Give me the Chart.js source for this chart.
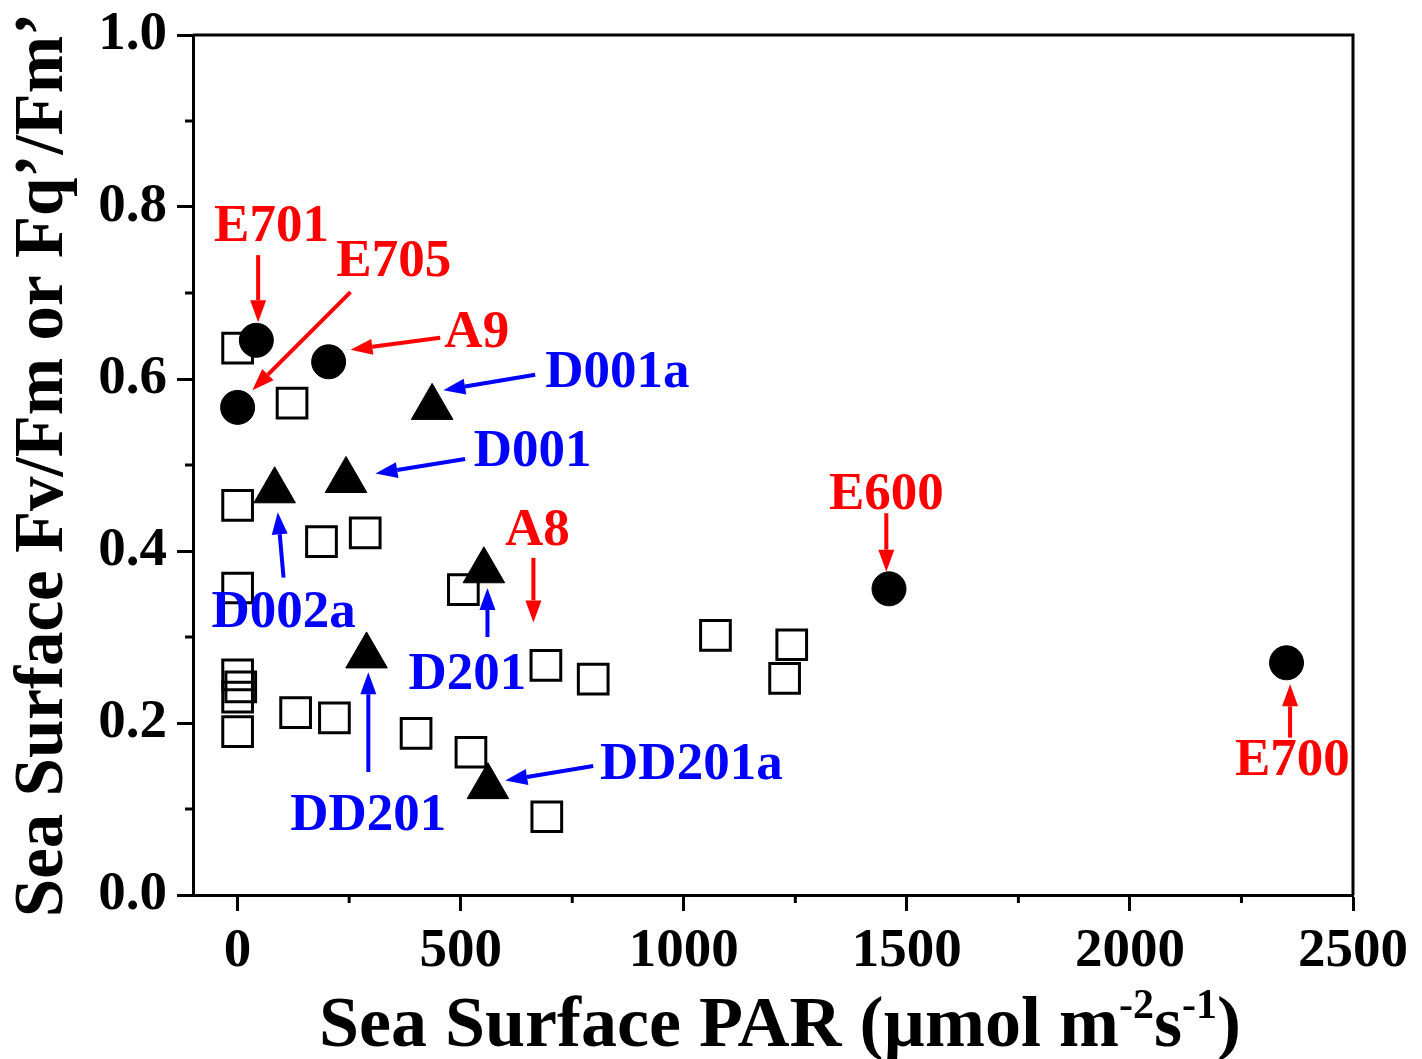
<!DOCTYPE html>
<html>
<head>
<meta charset="utf-8">
<script src="https://cdn.jsdelivr.net/npm/chart.js@4.4.0/dist/chart.umd.min.js"></script>
<style>
  html, body { margin: 0; padding: 0; background: #fff; }
  #wrap { width: 1422px; height: 1059px; }
</style>
</head>
<body>
<div id="wrap"><canvas id="chart" width="1422" height="1059"></canvas></div>
<script>
// ---- data ----
// open squares (all other stations)
const squareX = [0, 122, 0, 188, 286, 0, 506, 0, 7, 0, 0, 130, 217, 400, 523, 693, 691, 797, 1071, 1242, 1226];
const squareY = [0.636, 0.572, 0.453, 0.411, 0.421, 0.357, 0.355, 0.256, 0.242, 0.230, 0.190, 0.212, 0.206, 0.188, 0.166, 0.091, 0.267, 0.251, 0.302, 0.291, 0.252];
// filled circles (E701, A9, E705, E600, E700)
const circleX = [42, 204, 0, 1460, 2351];
const circleY = [0.645, 0.620, 0.567, 0.356, 0.270];
// filled triangles (D002a, D001, D001a, D201, DD201, DD201a)
const triangleX = [83, 243, 436, 552, 289, 561];
const triangleY = [0.470, 0.482, 0.567, 0.377, 0.278, 0.126];

const xTickMajor = [0, 500, 1000, 1500, 2000, 2500];
const yTickMajor = [0, 0.2, 0.4, 0.6, 0.8, 1.0];

// station labels: text centre and arrow tail/head, all in data units
const labelText  = ['E701', 'E705', 'A9', 'D001a', 'D001', 'D002a', 'A8', 'D201', 'DD201', 'DD201a', 'E600', 'E700'];
const labelColor = ['red', 'red', 'red', 'blue', 'blue', 'blue', 'red', 'blue', 'blue', 'blue', 'red', 'red'];
const labelPos   = [[76, 0.776], [350, 0.736], [536, 0.653], [851, 0.607], [661, 0.515], [103, 0.328],
                    [672, 0.423], [515, 0.256], [293, 0.092], [1017, 0.151], [1454, 0.465], [2364, 0.155]];
const arrowTail  = [[46, 0.744], [253, 0.701], [454, 0.648], [667, 0.605], [510, 0.507], [103, 0.369],
                    [663, 0.392], [560, 0.300], [293, 0.143], [797, 0.150], [1454, 0.444], [2359, 0.183]];
const arrowHead  = [[46, 0.666], [33, 0.587], [253, 0.634], [461, 0.587], [309, 0.490], [90, 0.445],
                    [663, 0.317], [560, 0.357], [293, 0.259], [600, 0.133], [1454, 0.376], [2359, 0.245]];

const SERIF = '"Liberation Serif", "Times New Roman", serif';
const COLORS = { red: '#ff0000', blue: '#0000ff' };

const toPoints = (xs, ys) => xs.map((v, i) => ({ x: v, y: ys[i] }));

// arrow helper
function drawArrow(ctx, x1, y1, x2, y2, color) {
  const ang = Math.atan2(y2 - y1, x2 - x1);
  const headLen = 22, headHalf = 8;
  const bx = x2 - Math.cos(ang) * headLen;
  const by = y2 - Math.sin(ang) * headLen;
  ctx.save();
  ctx.strokeStyle = color;
  ctx.fillStyle = color;
  ctx.lineWidth = 4;
  ctx.beginPath();
  ctx.moveTo(x1, y1);
  ctx.lineTo(bx, by);
  ctx.stroke();
  ctx.beginPath();
  ctx.moveTo(x2, y2);
  ctx.lineTo(bx + Math.sin(ang) * headHalf, by - Math.cos(ang) * headHalf);
  ctx.lineTo(bx - Math.sin(ang) * headHalf, by + Math.cos(ang) * headHalf);
  ctx.closePath();
  ctx.fill();
  ctx.restore();
}

const decorations = {
  id: 'decorations',
  afterDraw(chart) {
    const { ctx, chartArea: a, scales: { x, y } } = chart;
    ctx.save();

    // top and right frame
    ctx.strokeStyle = '#000';
    ctx.lineWidth = 3;
    ctx.beginPath();
    ctx.moveTo(a.left, a.top);
    ctx.lineTo(a.right, a.top);
    ctx.lineTo(a.right, a.bottom);
    ctx.stroke();

    // minor ticks halfway between majors
    ctx.beginPath();
    for (let i = 0; i < xTickMajor.length - 1; i++) {
      const px = x.getPixelForValue((xTickMajor[i] + xTickMajor[i + 1]) / 2);
      ctx.moveTo(px, a.bottom);
      ctx.lineTo(px, a.bottom + 8);
    }
    for (let i = 0; i < yTickMajor.length - 1; i++) {
      const py = y.getPixelForValue((yTickMajor[i] + yTickMajor[i + 1]) / 2);
      ctx.moveTo(a.left, py);
      ctx.lineTo(a.left - 8, py);
    }
    ctx.stroke();

    // station labels + arrows
    ctx.font = 'bold 53px ' + SERIF;
    ctx.textAlign = 'center';
    ctx.textBaseline = 'middle';
    labelText.forEach((t, i) => {
      const c = COLORS[labelColor[i]];
      ctx.fillStyle = c;
      ctx.fillText(t, x.getPixelForValue(labelPos[i][0]), y.getPixelForValue(labelPos[i][1]));
      drawArrow(ctx,
        x.getPixelForValue(arrowTail[i][0]), y.getPixelForValue(arrowTail[i][1]),
        x.getPixelForValue(arrowHead[i][0]), y.getPixelForValue(arrowHead[i][1]), c);
    });

    // x axis title with superscripts
    ctx.fillStyle = '#000';
    ctx.textAlign = 'left';
    ctx.textBaseline = 'alphabetic';
    const big = 'bold 72px ' + SERIF, small = 'bold 42px ' + SERIF;
    const parts = [['Sea Surface PAR (\u00b5mol m', big, 0], ['-2', small, -28], ['s', big, 0], ['-1', small, -28], [')', big, 0]];
    let total = 0;
    parts.forEach(p => { ctx.font = p[1]; total += ctx.measureText(p[0]).width; });
    let cx = 780 - total / 2;
    const base = 1046;
    parts.forEach(p => {
      ctx.font = p[1];
      ctx.fillText(p[0], cx, base + p[2]);
      cx += ctx.measureText(p[0]).width;
    });

    // y axis title
    ctx.save();
    ctx.translate(62, (a.top + a.bottom) / 2);
    ctx.rotate(-Math.PI / 2);
    ctx.font = 'bold 69px ' + SERIF;
    ctx.textAlign = 'center';
    ctx.fillText('Sea Surface Fv/Fm or Fq\u2019/Fm\u2019', 0, 0);
    ctx.restore();

    ctx.restore();
  }
};

new Chart(document.getElementById('chart'), {
  type: 'scatter',
  data: {
    datasets: [
      { label: 'triangles', data: toPoints(triangleX, triangleY), pointStyle: 'triangle',
        pointRadius: 24, backgroundColor: '#000', borderColor: '#000', borderWidth: 1 },
      { label: 'circles', data: toPoints(circleX, circleY), pointStyle: 'circle',
        pointRadius: 17, backgroundColor: '#000', borderColor: '#000', borderWidth: 1 },
      { label: 'squares', data: toPoints(squareX, squareY), pointStyle: 'rect',
        pointRadius: 21, backgroundColor: 'rgba(0,0,0,0)', borderColor: '#000', borderWidth: 3 }
    ]
  },
  options: {
    responsive: false,
    devicePixelRatio: 1,
    animation: false,
    layout: { padding: { top: 35, right: 69, left: 0, bottom: 0 } },
    plugins: { legend: { display: false }, tooltip: { enabled: false } },
    scales: {
      x: {
        type: 'linear', min: -100, max: 2500,
        afterFit: s => { s.height = 164; s.paddingLeft = 0; s.paddingRight = 0; },
        afterBuildTicks: s => { s.ticks = xTickMajor.map(v => ({ value: v })); },
        ticks: { color: '#000', font: { family: SERIF, size: 55, weight: 'bold' }, padding: 8, maxRotation: 0,
          callback: v => String(v) },
        grid: { drawOnChartArea: false, drawTicks: true, tickLength: 16, tickWidth: 3, tickColor: '#000' },
        border: { display: true, color: '#000', width: 3 }
      },
      y: {
        type: 'linear', min: 0, max: 1,
        afterFit: s => { s.width = 193; s.paddingTop = 0; s.paddingBottom = 0; },
        afterBuildTicks: s => { s.ticks = yTickMajor.map(v => ({ value: v })); },
        ticks: { color: '#000', font: { family: SERIF, size: 55, weight: 'bold' }, padding: 10,
          callback: v => Number(v).toFixed(1) },
        grid: { drawOnChartArea: false, drawTicks: true, tickLength: 16, tickWidth: 3, tickColor: '#000' },
        border: { display: true, color: '#000', width: 3 }
      }
    }
  },
  plugins: [decorations]
});
</script>
</body>
</html>
